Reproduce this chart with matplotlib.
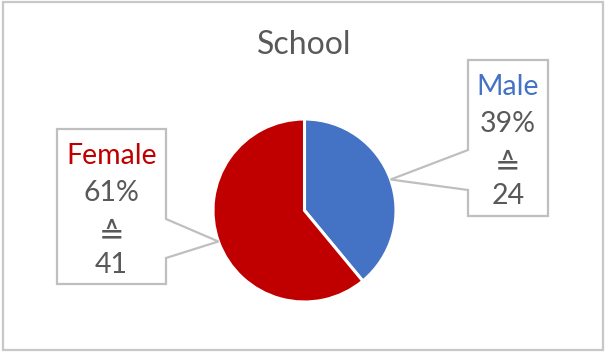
import matplotlib
matplotlib.use('Agg')
import matplotlib.pyplot as plt
import numpy as np
from matplotlib.patches import Polygon, Rectangle

# data
categories = ['Male', 'Female']
shares = [39, 61]          # percent shown on the labels / slice sizes
counts = [24, 41]          # absolute numbers
colors = ['#4472C4', '#C00000']
title = 'School'

W, H = 606, 353
TXT = '#595959'
EDGE = '#BFBFBF'
FONT = ['Lato', 'DejaVu Sans']

fig = plt.figure(figsize=(W / 100, H / 100), dpi=100)
ax = fig.add_axes([0, 0, 1, 1])
ax.set_xlim(0, W)
ax.set_ylim(0, H)
ax.set_aspect('equal')
ax.axis('off')

# outer chart frame
ax.add_patch(Rectangle((3, 3), W - 6, H - 5, fill=False, ec='#C8C8C8', lw=1.6))

cx, cy, r = 304.5, H - 210.5, 91.5
wedges, _ = ax.pie(shares, colors=colors, startangle=90, counterclock=False,
                   center=(cx, cy), radius=r, frame=True,
                   wedgeprops=dict(edgecolor='white', linewidth=2.2))
ax.set_xlim(0, W)
ax.set_ylim(0, H)
ax.axis('off')

ax.text(cx, H - 45, title, ha='center', va='center', fontsize=23,
        color=TXT, family=FONT)

# callout boxes (screen px: left, top, right, bottom, notch top, notch bottom)
boxes = {
    'Male': (468, 60, 548, 216, 150, 190, 'left'),
    'Female': (57, 129, 166, 284, 219, 258, 'right'),
}

for i, (name, w) in enumerate(zip(categories, wedges)):
    mid = np.deg2rad((w.theta1 + w.theta2) / 2)
    px, py = cx + r * np.cos(mid), cy + r * np.sin(mid)
    l, t, rr, b, n1, n2, side = boxes[name]
    t, b, n1, n2 = H - t, H - b, H - n1, H - n2
    if side == 'left':
        pts = [(l, t), (rr, t), (rr, b), (l, b), (l, n2), (px, py), (l, n1)]
    else:
        pts = [(l, t), (rr, t), (rr, n1), (px, py), (rr, n2), (rr, b), (l, b)]
    ax.add_patch(Polygon(pts, closed=True, fc='white', ec=EDGE, lw=1.6, zorder=3))
    xc = (l + rr) / 2
    lines = [(name, colors[i], 20.5, FONT), (f'{shares[i]}%', TXT, 20.5, FONT),
             ('\u2259', TXT, 22, ['DejaVu Sans']), (str(counts[i]), TXT, 20.5, FONT)]
    offs = [27, 64, 106, 136]
    for (s, c, fs, fam), dy in zip(lines, offs):
        ax.text(xc, t - dy, s, ha='center', va='center', fontsize=fs,
                color=c, family=fam, zorder=4)

fig.savefig('out.png', dpi=100)
